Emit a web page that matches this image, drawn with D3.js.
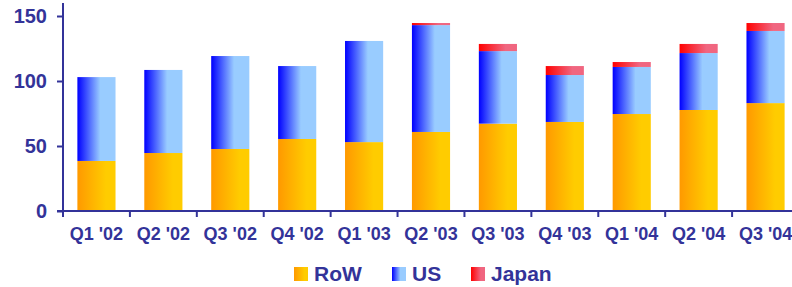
<!DOCTYPE html>
<html lang="en">
<head>
	<meta charset="utf-8">
	<title>Quarterly stacked</title>
	<script src="https://d3js.org/d3.v7.min.js"></script>
	<style>
	body { margin: 0; background: #fff; }
	text { font-family: "Liberation Sans", Arial, sans-serif; font-weight: bold; fill: #333399; }
	</style>
</head>
<body>
	<script>
	var quarters = ["Q1 '02", "Q2 '02", "Q3 '02", "Q4 '02", "Q1 '03", "Q2 '03", "Q3 '03", "Q4 '03", "Q1 '04", "Q2 '04", "Q3 '04"];
	var row   = [38.5, 44.6, 47.7, 55.4, 53.0, 60.8, 67.2, 68.5, 74.6, 77.7, 83.0];
	var us    = [64.5, 63.9, 71.5, 56.1, 77.8, 82.2, 55.8, 36.1, 36.2, 43.8, 55.5];
	var japan = [0, 0, 0, 0, 0, 1.6, 5.5, 6.9, 3.8, 7.0, 6.1];
	var seriesNames = ["RoW", "US", "Japan"];
	var yTicks = [0, 50, 100, 150];

	var width = 792, height = 287;
	var axisColor = "#333399";

	var svg = d3.select('body').append('svg')
		.attr('width', width)
		.attr('height', height);

	// gradients for each series
	var defs = svg.append('defs');
	var grads = [
		{ id: 'gRoW', stops: [[0, '#ff9900'], [0.75, '#ffcc00'], [1, '#ffcc00']] },
		{ id: 'gUS', stops: [[0, '#0000ff'], [0.6, '#99ccff'], [1, '#99ccff']] },
		{ id: 'gJapan', stops: [[0, '#ff0000'], [0.7, '#f06680'], [1, '#f06680']] }
	];
	grads.forEach(function(g) {
		var lg = defs.append('linearGradient').attr('id', g.id)
			.attr('x1', '0%').attr('x2', '100%').attr('y1', '0%').attr('y2', '0%');
		g.stops.forEach(function(s) {
			lg.append('stop').attr('offset', s[0]).attr('stop-color', s[1]);
		});
	});

	var data = quarters.map(function(q, i) {
		return { q: q, RoW: row[i], US: us[i], Japan: japan[i] };
	});

	var x = d3.scaleBand()
		.domain(quarters)
		.range([63, 799])
		.paddingInner(0.43)
		.paddingOuter(0.215);

	var y = d3.scaleLinear()
		.domain([0, 160])
		.range([211, 3]);

	var stack = d3.stack().keys(seriesNames);
	var layers = stack(data);

	svg.append('g').selectAll('g')
		.data(layers)
		.enter().append('g')
		.attr('fill', function(d) { return 'url(#g' + d.key + ')'; })
		.selectAll('rect')
		.data(function(d) { return d; })
		.enter().append('rect')
		.attr('x', function(d) { return x(d.data.q); })
		.attr('width', x.bandwidth())
		.attr('y', function(d) { return y(d[1]); })
		.attr('height', function(d) { return y(d[0]) - y(d[1]); });

	// y axis
	var yAxis = svg.append('g')
		.attr('transform', 'translate(63,0)')
		.call(d3.axisLeft(y).tickValues(yTicks).tickSize(6).tickPadding(10));
	yAxis.select('.domain').attr('stroke', axisColor).attr('stroke-width', 2)
		.attr('d', 'M0,3V211');
	yAxis.selectAll('.tick line').attr('stroke', axisColor).attr('stroke-width', 2);
	yAxis.selectAll('.tick text').style('font-size', '20px').attr('fill', axisColor);

	// x axis with ticks at band boundaries
	var step = x.step();
	var bounds = d3.range(quarters.length + 1).map(function(i) { return 63 + i * step; });
	var xAxis = svg.append('g');
	xAxis.append('line')
		.attr('x1', 57).attr('x2', 800)
		.attr('y1', y(0)).attr('y2', y(0))
		.attr('stroke', axisColor).attr('stroke-width', 2);
	xAxis.selectAll('.xt').data(bounds).enter().append('line')
		.attr('x1', function(d) { return d; }).attr('x2', function(d) { return d; })
		.attr('y1', y(0)).attr('y2', y(0) + 6)
		.attr('stroke', axisColor).attr('stroke-width', 2);
	xAxis.selectAll('.xl').data(quarters).enter().append('text')
		.attr('x', function(d) { return x(d) + x.bandwidth() / 2; })
		.attr('y', 240)
		.attr('text-anchor', 'middle')
		.style('font-size', '18px')
		.text(function(d) { return d; });

	// legend
	var legendX = [294, 392, 471];
	var legend = svg.append('g').selectAll('g')
		.data(seriesNames)
		.enter().append('g')
		.attr('transform', function(d, i) { return 'translate(' + legendX[i] + ',267)'; });
	legend.append('rect')
		.attr('width', 14).attr('height', 14)
		.attr('fill', function(d) { return 'url(#g' + d + ')'; });
	legend.append('text')
		.attr('x', 20).attr('y', 13.5)
		.style('font-size', '21px')
		.text(function(d) { return d; });
	</script>
</body>
</html>
